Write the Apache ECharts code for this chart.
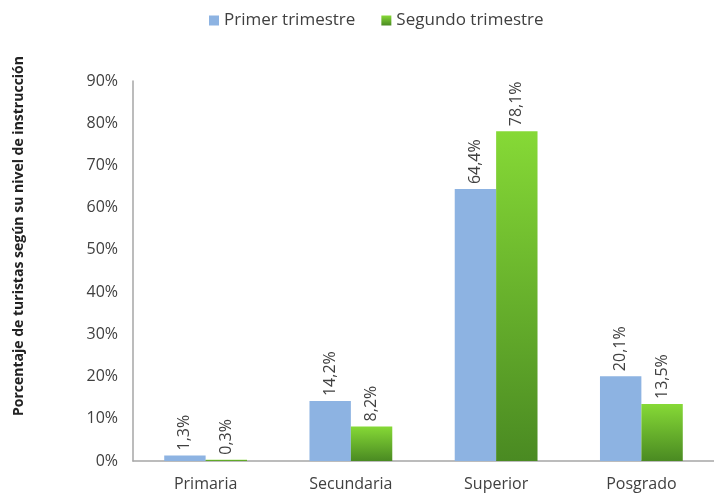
<!DOCTYPE html>
<html><head><meta charset="utf-8">
<script src="https://cdn.jsdelivr.net/npm/echarts@6/dist/echarts.min.js"></script>
<style>html,body{margin:0;padding:0;background:#fff}#c{width:714px;height:499px}</style>
</head><body><div id="c"></div>
<script>
const categories = ['Primaria', 'Secundaria', 'Superior', 'Posgrado'];
const seriesNames = ['Primer trimestre', 'Segundo trimestre'];
const primer = [1.3, 14.2, 64.4, 20.1];
const segundo = [0.3, 8.2, 78.1, 13.5];
const yTicks = [0, 10, 20, 30, 40, 50, 60, 70, 80, 90];
const yTitle = 'Porcentaje de turistas según su nivel de instrucción';

const fmt = v => v.toFixed(1).replace('.', ',') + '%';
const font = 'Open Sans';
const chart = echarts.init(document.getElementById('c'));
const labelCfg = {
  show: true, position: 'top', rotate: 90, align: 'left', verticalAlign: 'middle',
  distance: 5, color: '#404040', fontFamily: font, fontSize: 16,
  formatter: p => fmt(p.value)
};
chart.setOption({
  animation: false,
  legend: {
    top: 7, left: 204, itemWidth: 10, itemHeight: 10, itemGap: 26, icon: 'rect',
    textStyle: { color: '#404040', fontFamily: font, fontSize: 17 },
    data: seriesNames
  },
  graphic: [{
    type: 'text', x: 19, y: 236, rotation: Math.PI / 2,
    style: {
      text: yTitle, fill: '#222', font: 'bold 14px "Open Sans"',
      textAlign: 'center', textVerticalAlign: 'middle'
    }
  }],
  grid: { left: 133, right: 0, top: 81, bottom: 38 },
  xAxis: {
    type: 'category', data: categories,
    axisLine: { lineStyle: { color: '#a6a6a6', width: 1.5 } },
    axisTick: { show: false },
    axisLabel: { color: '#404040', fontFamily: font, fontSize: 16, margin: 15 }
  },
  yAxis: {
    type: 'value', min: 0, max: 90, interval: 10,
    axisLine: { show: true, lineStyle: { color: '#a6a6a6', width: 1.5 } },
    axisTick: { show: false },
    splitLine: { show: false },
    axisLabel: {
      color: '#404040', fontFamily: font, fontSize: 16, margin: 15,
      formatter: v => yTicks.includes(v) ? v + '%' : ''
    }
  },
  series: [
    {
      name: seriesNames[0], type: 'bar', data: primer, barGap: '0%', barCategoryGap: '43%',
      itemStyle: { color: '#8db3e2' }, label: labelCfg
    },
    {
      name: seriesNames[1], type: 'bar', data: segundo,
      itemStyle: {
        color: new echarts.graphic.LinearGradient(0, 0, 0, 1, [
          { offset: 0, color: '#86d936' }, { offset: 1, color: '#4a8a22' }
        ])
      },
      label: labelCfg
    }
  ]
});
</script></body></html>
